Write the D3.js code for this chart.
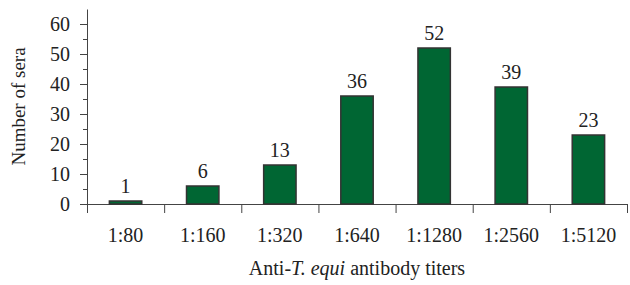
<!DOCTYPE html>
<html>
<head>
<meta charset="utf-8">
<script src="https://cdn.jsdelivr.net/npm/d3@7"></script>
<style>
  body { margin: 0; background: #fff; }
  text { font-family: "Liberation Serif", "DejaVu Serif", serif; fill: #222; }
</style>
</head>
<body>
<div id="chart"></div>
<script>
// titers and number of sera per titer
var titers = ["1:80", "1:160", "1:320", "1:640", "1:1280", "1:2560", "1:5120"];
var counts = [1, 6, 13, 36, 52, 39, 23];
var yTicks = [0, 10, 20, 30, 40, 50, 60];

var margin = { top: 9, right: 3, bottom: 81, left: 87 },
    width = 630 - margin.left - margin.right,
    height = 285 - margin.top - margin.bottom;

var svg = d3.select("#chart")
    .append("svg")
    .attr("width", 630)
    .attr("height", 285)
    .append("g")
    .attr("transform", "translate(" + margin.left + "," + margin.top + ")");

var x = d3.scaleBand()
    .domain(titers)
    .range([0, width])
    .paddingInner(0.58)
    .paddingOuter(0.29);

var y = d3.scaleLinear()
    .domain([0, 65])
    .range([height, 0]);

// minor ticks every 5
svg.append("g")
    .selectAll("line")
    .data(d3.range(5, 65, 10))
    .enter()
    .append("line")
    .attr("x1", -4).attr("x2", 0)
    .attr("y1", function (d) { return y(d) + 0.5 })
    .attr("y2", function (d) { return y(d) + 0.5 })
    .attr("stroke", "#444");

var yAxis = svg.append("g")
    .call(d3.axisLeft(y).tickValues(yTicks).tickSize(7).tickPadding(10).tickSizeOuter(0));
yAxis.select(".domain").attr("stroke", "#444");
yAxis.selectAll(".tick line").attr("stroke", "#444");
yAxis.selectAll("text").style("font-size", "20px").attr("fill", "#222")
    .style("font-family", "'Liberation Serif', serif");

// x axis: ticks at the band edges
var edges = d3.range(titers.length + 1).map(function (i) { return i * width / titers.length });
var xAxis = svg.append("g").attr("transform", "translate(0," + height + ")");
xAxis.append("line")
    .attr("x1", -7).attr("x2", width)
    .attr("y1", 0.5).attr("y2", 0.5)
    .attr("stroke", "#444");
xAxis.selectAll(".edge")
    .data(edges)
    .enter()
    .append("line")
    .attr("class", "edge")
    .attr("x1", function (d) { return d + 0.5 })
    .attr("x2", function (d) { return d + 0.5 })
    .attr("y1", 0).attr("y2", 9)
    .attr("stroke", "#444");
xAxis.selectAll(".lab")
    .data(titers)
    .enter()
    .append("text")
    .attr("class", "lab")
    .attr("x", function (d) { return x(d) + x.bandwidth() / 2 })
    .attr("y", 38)
    .attr("text-anchor", "middle")
    .style("font-size", "20px")
    .text(function (d) { return d });

svg.selectAll(".bar")
    .data(counts)
    .enter()
    .append("rect")
    .attr("class", "bar")
    .attr("x", function (d, i) { return x(titers[i]) })
    .attr("y", function (d) { return y(d) })
    .attr("width", x.bandwidth())
    .attr("height", function (d) { return y(0) - y(d) })
    .attr("fill", "#006633")
    .attr("stroke", "#333")
    .attr("stroke-width", 1.5);

svg.selectAll(".val")
    .data(counts)
    .enter()
    .append("text")
    .attr("class", "val")
    .attr("x", function (d, i) { return x(titers[i]) + x.bandwidth() / 2 })
    .attr("y", function (d) { return y(d) - 8 })
    .attr("text-anchor", "middle")
    .style("font-size", "20px")
    .text(function (d) { return d });

// axis titles
var xt = svg.append("text")
    .attr("x", width / 2)
    .attr("y", height + 71)
    .attr("text-anchor", "middle")
    .style("font-size", "20px");
xt.append("tspan").text("Anti-");
xt.append("tspan").style("font-style", "italic").text("T. equi");
xt.append("tspan").text(" antibody titers");

svg.append("text")
    .attr("transform", "translate(-62," + (height / 2) + ") rotate(-90)")
    .attr("text-anchor", "middle")
    .style("font-size", "19px")
    .text("Number of sera");
</script>
</body>
</html>
